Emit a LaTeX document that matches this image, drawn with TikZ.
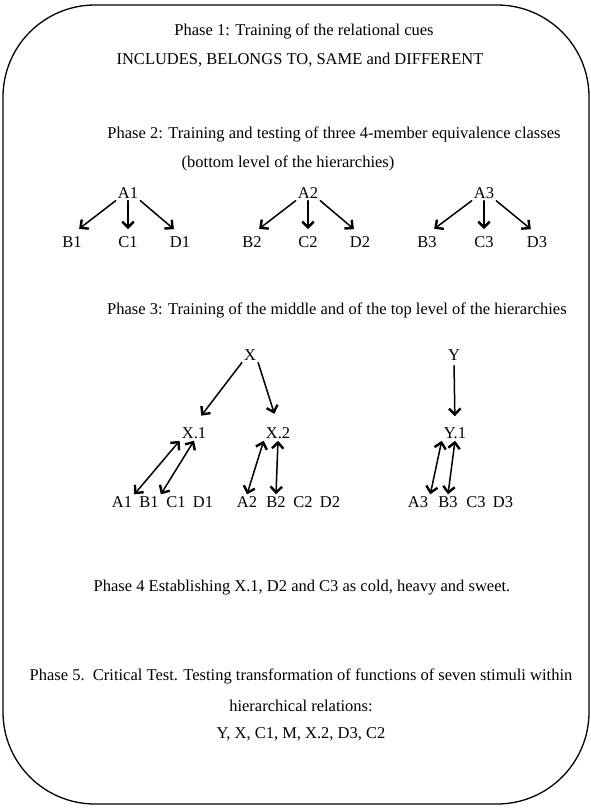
\documentclass[tikz,border=0pt]{standalone}
\usepackage{fontspec}
\setmainfont{Liberation Serif}
\usetikzlibrary{arrows.meta}

\begin{document}
\begin{tikzpicture}[line cap=round,line join=round,x=1pt,y=-1pt,
  >={Straight Barb[length=6pt,width=11.5pt,line width=2.4pt]},
  font=\fontsize{16.5}{20}\selectfont,inner sep=2pt]
\useasboundingbox (0,0) rectangle (591,808);
\draw [line width=1.3pt,rounded corners=92pt] (3,5) rectangle (589,804);
% phase 1
\node (ph1) at (304,31) {Phase 1: Training of the relational cues};
\node (ph1b) at (300,60) {INCLUDES, BELONGS TO, SAME and DIFFERENT};
% phase 2
\node (ph2) at (334,134) {Phase 2: Training and testing of three 4-member equivalence classes};
\node (ph2b) at (288,163) {(bottom level of the hierarchies)};
\node (A1) at (128,193) {A1};
\node (A2) at (308,193) {A2};
\node (A3) at (484,193) {A3};
\node (B1) at (72,242) {B1};
\node (C1) at (128,242) {C1};
\node (D1) at (180,242) {D1};
\node (B2) at (252,242) {B2};
\node (C2) at (308,242) {C2};
\node (D2) at (360,242) {D2};
\node (B3) at (427,242) {B3};
\node (C3) at (484,242) {C3};
\node (D3) at (537,242) {D3};
\draw [line width=1.5pt,->,shorten >=9pt] (A1.south west) -- (B1.north);
\draw [line width=1.5pt,->,shorten >=5pt] (A1.south) -- (C1.north);
\draw [line width=1.5pt,->,shorten >=8pt] (A1.south east) -- (D1.north);
\draw [line width=1.5pt,->,shorten >=9pt] (A2.south west) -- (B2.north);
\draw [line width=1.5pt,->,shorten >=5pt] (A2.south) -- (C2.north);
\draw [line width=1.5pt,->,shorten >=8pt] (A2.south east) -- (D2.north);
\draw [line width=1.5pt,->,shorten >=9pt] (A3.south west) -- (B3.north);
\draw [line width=1.5pt,->,shorten >=5pt] (A3.south) -- (C3.north);
\draw [line width=1.5pt,->,shorten >=8pt] (A3.south east) -- (D3.north);
% phase 3
\node [anchor=west] (ph3) at (105,310) {Phase 3: Training of the middle and of the top level of the hierarchies};
\node (X) at (250,355) {X};
\node (Y) at (454,355) {Y};
\node (X1) at (194,433) {X.1};
\node (X2) at (278,433) {X.2};
\node (Y1) at (455,433) {Y.1};
\node (hA1) at (122,502) {A1};
\node (hB1) at (149,502) {B1};
\node (hC1) at (176,502) {C1};
\node (hD1) at (203,502) {D1};
\node (hA2) at (247,502) {A2};
\node (hB2) at (276,502) {B2};
\node (hC2) at (303,502) {C2};
\node (hD2) at (330,502) {D2};
\node (hA3) at (418,502) {A3};
\node (hB3) at (448,502) {B3};
\node (hC3) at (476,502) {C3};
\node (hD3) at (503,502) {D3};
\draw [line width=1.5pt,->,shorten >=12pt] (X.south west) -- (X1.north);
\draw [line width=1.5pt,->,shorten >=12pt] (X.south east) -- (X2.north);
\draw [line width=1.5pt,->,shorten <=3pt,shorten >=9pt] (Y.south) -- (Y1.north);
\draw [line width=1.5pt,<->] (X1.south west) -- (hA1.north east);
\draw [line width=1.5pt,<->] (X1.south) -- (hB1.north east);
\draw [line width=1.5pt,<->] (X2.south west) -- (hA2.north);
\draw [line width=1.5pt,<->] (X2.south) -- (hB2.north);
\draw [line width=1.5pt,<->] (Y1.south west) -- (hA3.north east);
\draw [line width=1.5pt,<->] (Y1.south) -- (hB3.north);
% phase 4
\node (ph4) at (302,588) {Phase 4 Establishing X.1, D2 and C3 as cold, heavy and sweet.};
% phase 5
\node (ph5) at (301,676) {Phase 5.\ \ Critical Test. Testing transformation of functions of seven stimuli within};
\node (ph5b) at (301,706) {hierarchical relations:};
\node (ph5c) at (301,734) {Y, X, C1, M, X.2, D3, C2};
\end{tikzpicture}
\end{document}
